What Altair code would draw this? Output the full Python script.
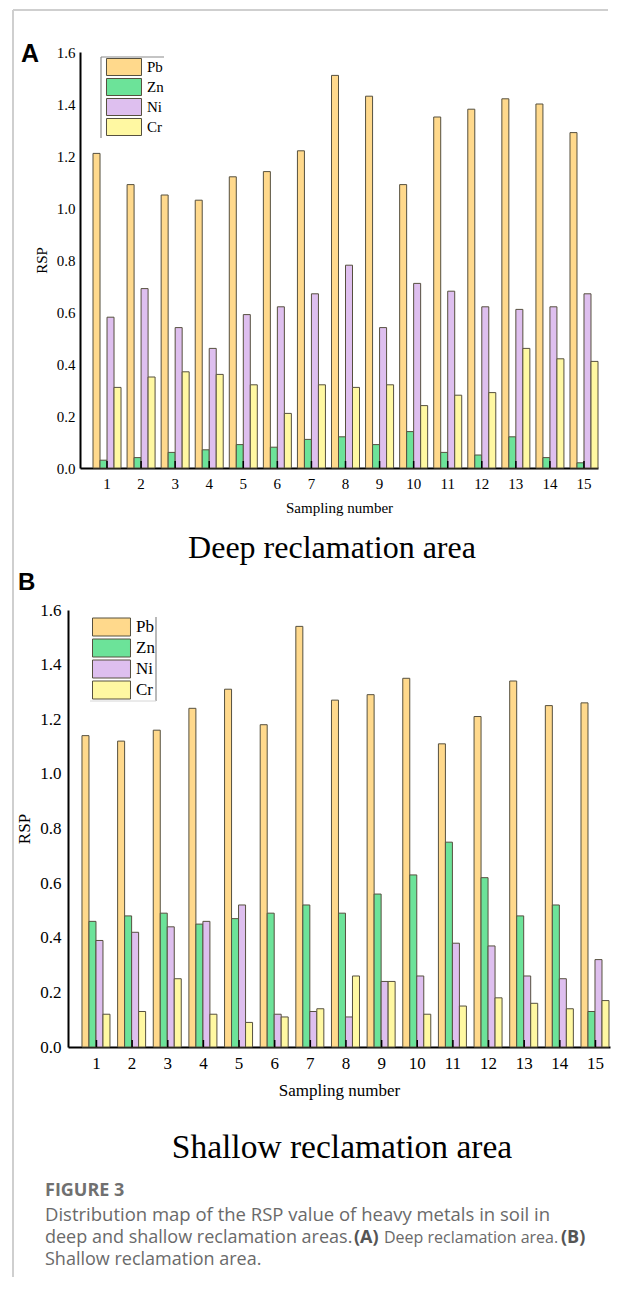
import altair as alt
import pandas as pd

samples = [str(i) for i in range(1, 16)]
metals = ["Pb", "Zn", "Ni", "Cr"]
colors = ["#FFD98C", "#6CE399", "#DEBFEF", "#FFF8A2"]

# Deep reclamation area (A)
deep_pb = [1.21, 1.09, 1.05, 1.03, 1.12, 1.14, 1.22, 1.51, 1.43, 1.09, 1.35, 1.38, 1.42, 1.40, 1.29]
deep_zn = [0.03, 0.04, 0.06, 0.07, 0.09, 0.08, 0.11, 0.12, 0.09, 0.14, 0.06, 0.05, 0.12, 0.04, 0.02]
deep_ni = [0.58, 0.69, 0.54, 0.46, 0.59, 0.62, 0.67, 0.78, 0.54, 0.71, 0.68, 0.62, 0.61, 0.62, 0.67]
deep_cr = [0.31, 0.35, 0.37, 0.36, 0.32, 0.21, 0.32, 0.31, 0.32, 0.24, 0.28, 0.29, 0.46, 0.42, 0.41]

# Shallow reclamation area (B)
shal_pb = [1.14, 1.12, 1.16, 1.24, 1.31, 1.18, 1.54, 1.27, 1.29, 1.35, 1.11, 1.21, 1.34, 1.25, 1.26]
shal_zn = [0.46, 0.48, 0.49, 0.45, 0.47, 0.49, 0.52, 0.49, 0.56, 0.63, 0.75, 0.62, 0.48, 0.52, 0.13]
shal_ni = [0.39, 0.42, 0.44, 0.46, 0.52, 0.12, 0.13, 0.11, 0.24, 0.26, 0.38, 0.37, 0.26, 0.25, 0.32]
shal_cr = [0.12, 0.13, 0.25, 0.12, 0.09, 0.11, 0.14, 0.26, 0.24, 0.12, 0.15, 0.18, 0.16, 0.14, 0.17]

y_ticks = [0.0, 0.2, 0.4, 0.6, 0.8, 1.0, 1.2, 1.4, 1.6]

SERIF = "Liberation Serif"
SANS = "Liberation Sans"
CAP = "Open Sans"
EDGE = "#56503f"
FRAME = "#cfcfcf"


def long_df(pb, zn, ni, cr):
    rows = []
    for m, vals in zip(metals, [pb, zn, ni, cr]):
        for s, v in zip(samples, vals):
            rows.append({"Sample": s, "Metal": m, "RSP": v})
    return pd.DataFrame(rows)


def txt(text, x, y, size, font, weight="normal", color="black", align="left"):
    return alt.Chart(pd.DataFrame({"t": [text]})).mark_text(
        align=align, baseline="alphabetic", font=font, fontSize=size,
        fontWeight=weight, color=color
    ).encode(text="t:N", x=alt.value(x), y=alt.value(y))


def hline(x1, x2, y, color, w):
    return alt.Chart(pd.DataFrame({"a": [0]})).mark_rule(color=color, strokeWidth=w).encode(
        x=alt.value(x1), x2=alt.value(x2), y=alt.value(y))


def vline(x, y1, y2, color, w):
    return alt.Chart(pd.DataFrame({"a": [0]})).mark_rule(color=color, strokeWidth=w).encode(
        x=alt.value(x), y=alt.value(y1), y2=alt.value(y2))


def panel(df, h, fs, pi, po, lpad_y, lpad_x, tpad_x, tpad_y,
          legx, legy, sym, symw, rowpad, loff):
    r = symw / sym
    path = f"M{-r:.3f},-1H{r:.3f}V1H{-r:.3f}Z"
    x = alt.X(
        "Sample:O", sort=samples,
        scale=alt.Scale(paddingInner=pi, paddingOuter=po, align=1),
        axis=alt.Axis(
            title="Sampling number", labelAngle=0, ticks=False, tickSize=0,
            domainColor="black", domainWidth=2, labelFont=SERIF, labelFontSize=fs,
            labelColor="black", labelPadding=lpad_x, titleFont=SERIF, titleFontSize=fs,
            titleFontWeight="normal", titleColor="black", titlePadding=tpad_x,
        ),
    )
    y = alt.Y(
        "RSP:Q",
        scale=alt.Scale(domain=[0, 1.6], nice=False, zero=True),
        axis=alt.Axis(
            values=y_ticks, format=".1f", grid=False, ticks=False, tickSize=0,
            domainColor="black", domainWidth=2, labelFont=SERIF, labelFontSize=fs,
            labelColor="black", labelPadding=lpad_y, title="RSP", titleFont=SERIF,
            titleFontSize=fs, titleFontWeight="normal", titleColor="black",
            titlePadding=tpad_y,
        ),
    )
    bars = alt.Chart(df).mark_bar(stroke=EDGE, strokeWidth=1, opacity=1).encode(
        x=x,
        xOffset=alt.XOffset("Metal:N", sort=metals,
                            scale=alt.Scale(paddingInner=0, paddingOuter=0)),
        y=y,
        color=alt.Color(
            "Metal:N", sort=metals,
            scale=alt.Scale(domain=metals, range=colors),
            legend=alt.Legend(
                orient="none", legendX=legx, legendY=legy, title=None, padding=0,
                symbolType=path, symbolSize=sym * sym, symbolStrokeColor=EDGE,
                symbolStrokeWidth=1, symbolOpacity=1, labelFont=SERIF,
                labelFontSize=fs, labelColor="black", labelOffset=loff,
                rowPadding=rowpad,
            ),
        ),
    )
    ticks = alt.Chart(pd.DataFrame({"Sample": samples})).mark_rule(
        color="black", strokeWidth=1.5
    ).encode(x=alt.X("Sample:O", sort=samples), y=alt.value(h), y2=alt.value(h - 7))
    return bars, ticks


# ---------- Panel A (origin at page 79, 51) ----------
WA, HA = 518, 416
barsA, ticksA = panel(long_df(deep_pb, deep_zn, deep_ni, deep_cr), HA, 15,
                      0.178, 0.191, 5, 8, 9, 7, 35, 6, 17, 35, -2.5, 14)
panelA = alt.layer(
    barsA, ticksA,
    hline(21, 84, 5, "#8a8a8a", 1.2),
    vline(21, 5, 86, "#8a8a8a", 1.2),
    txt("A", -59, 10, 25, SANS, weight="bold"),
    txt("Deep reclamation area", 252, 506, 32, SERIF, align="center"),
    vline(-67, -42, 1225, FRAME, 2),
    hline(-67, 528, -42, FRAME, 2),
).properties(width=WA, height=HA)

# ---------- Panel B (origin at page 67, 609) ----------
WB, HB = 542, 437
barsB, ticksB = panel(long_df(shal_pb, shal_zn, shal_ni, shal_cr), HB, 17,
                      0.186, 0.196, 7, 8, 11, 6, 34, 7.5, 18, 38, -2, 15)
panelB = alt.layer(
    barsB, ticksB,
    vline(88, 7, 91, "#8a8a8a", 1.2),
    hline(22, 88, 91, "#d6d6d6", 1),
    txt("B", -50, -20, 24, SANS, weight="bold"),
    txt("Shallow reclamation area", 274, 548, 33.5, SERIF, align="center"),
    txt("FIGURE 3", -23, 586, 18, CAP, weight="bold", color="#707070"),
    txt("Distribution map of the RSP value of heavy metals in soil in",
        -23, 611, 18.5, CAP, color="#6a6a6a"),
    txt("deep and shallow reclamation areas.", -23, 633, 18, CAP, color="#6a6a6a"),
    txt("(A)", 286, 633, 18, CAP, weight="bold", color="#555555"),
    txt("Deep reclamation area.", 316, 633, 16, CAP, color="#6a6a6a"),
    txt("(B)", 493, 633, 18, CAP, weight="bold", color="#555555"),
    txt("Shallow reclamation area.", -23, 655, 18, CAP, color="#6a6a6a"),
).properties(width=WB, height=HB)

chart = alt.vconcat(panelA, panelB, spacing=142, bounds="flush", center=True).resolve_scale(
    color="independent"
).resolve_legend(color="independent").properties(
    padding={"left": 3, "top": 0, "right": 0, "bottom": 0}
).configure_view(stroke="transparent")

chart.save("out.html", embed_options={"renderer": "svg", "actions": False})
